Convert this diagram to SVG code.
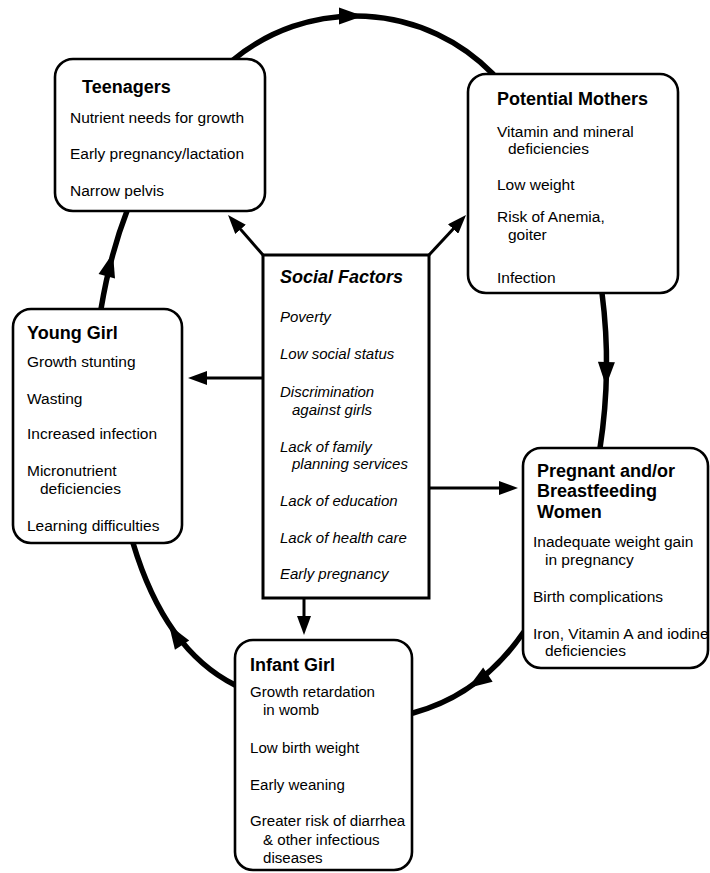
<svg xmlns="http://www.w3.org/2000/svg" width="710" height="873" viewBox="0 0 710 873">
<style>
.box{fill:#fff;stroke:#000;stroke-width:2.6}
.sq{fill:#fff;stroke:#000;stroke-width:3}
.t{font-family:"Liberation Sans",Arial,sans-serif;font-size:15.5px;fill:#000}
.ti{font-size:15.1px}
.h{font-family:"Liberation Sans",Arial,sans-serif;font-size:18px;font-weight:bold;fill:#000}
.si{font-family:"Liberation Sans",Arial,sans-serif;font-size:15px;font-style:italic;fill:#000}
.sh{font-family:"Liberation Sans",Arial,sans-serif;font-size:18px;font-style:italic;font-weight:bold;fill:#000}
.cyc{fill:none;stroke:#000;stroke-width:5.5;stroke-linecap:round}
.str{fill:none;stroke:#000;stroke-width:3;marker-end:url(#arr)}
</style>
<defs>
<marker id="arr" markerUnits="userSpaceOnUse" markerWidth="20" markerHeight="14" refX="11" refY="7" orient="auto">
<path d="M0,0 L19,7 L0,14 Z" fill="#000"/>
</marker>
<path id="ch" d="M0,0 L-24,-8.5 L-24,8.5 Z" fill="#000"/>
</defs>
<rect width="710" height="873" fill="#fff"/>
<g id="connectors">
<path class="cyc" d="M233,60 A192,192 0 0 1 493,74"/>
<path class="cyc" d="M602,293 Q612,370 600,448"/>
<path class="cyc" d="M523,633 Q480,695 413,713"/>
<path class="cyc" d="M235,685 Q165,650 133,543"/>
<path class="cyc" d="M101,309 Q110,255 127,211"/>
<use href="#ch" transform="translate(363,16)"/>
<use href="#ch" transform="translate(606,386) rotate(91)"/>
<use href="#ch" transform="translate(468,688) rotate(146)"/>
<use href="#ch" transform="translate(169,625) rotate(-123)"/>
<use href="#ch" transform="translate(113,253) rotate(-75)"/>
<path class="str" d="M263,255 L233.3,221"/>
<path class="str" d="M429,255 L460.6,220.9"/>
<path class="str" d="M263,378 L196,378"/>
<path class="str" d="M429,488 L510,488"/>
<path class="str" d="M304,598 L304,627"/>
</g>
<g id="teenagers">
<rect class="box" x="55" y="59" width="210" height="152" rx="18"/>
<text class="h" x="82" y="93">Teenagers</text>
<text class="t" x="70" y="123">Nutrient needs for growth</text>
<text class="t" x="70" y="159">Early pregnancy/lactation</text>
<text class="t" x="70" y="196">Narrow pelvis</text>
</g>
<g id="potential-mothers">
<rect class="box" x="468" y="74" width="210" height="219" rx="18"/>
<text class="h" x="497" y="105">Potential Mothers</text>
<text class="t" x="497" y="137">Vitamin and mineral</text>
<text class="t" x="508" y="154">deficiencies</text>
<text class="t" x="497" y="190">Low weight</text>
<text class="t" x="497" y="222">Risk of Anemia,</text>
<text class="t" x="508" y="240">goiter</text>
<text class="t" x="497" y="283">Infection</text>
</g>
<g id="young-girl">
<rect class="box" x="13" y="309" width="169" height="234" rx="18"/>
<text class="h" x="27" y="339">Young Girl</text>
<text class="t" x="27" y="367">Growth stunting</text>
<text class="t" x="27" y="404">Wasting</text>
<text class="t" x="27" y="439">Increased infection</text>
<text class="t" x="27" y="476">Micronutrient</text>
<text class="t" x="40" y="494">deficiencies</text>
<text class="t" x="27" y="531">Learning difficulties</text>
</g>
<g id="social-factors">
<rect class="sq" x="263" y="255" width="166" height="343"/>
<text class="sh" x="280" y="283">Social Factors</text>
<text class="si" x="280" y="322">Poverty</text>
<text class="si" x="280" y="359">Low social status</text>
<text class="si" x="280" y="397">Discrimination</text>
<text class="si" x="292" y="415">against girls</text>
<text class="si" x="280" y="452">Lack of family</text>
<text class="si" x="292" y="469">planning services</text>
<text class="si" x="280" y="506">Lack of education</text>
<text class="si" x="280" y="543">Lack of health care</text>
<text class="si" x="280" y="579">Early pregnancy</text>
</g>
<g id="pregnant-breastfeeding">
<rect class="box" x="523" y="448" width="185" height="220" rx="18"/>
<text class="h" x="537" y="477">Pregnant and/or</text>
<text class="h" x="537" y="497">Breastfeeding</text>
<text class="h" x="537" y="518">Women</text>
<text class="t" x="533" y="547">Inadequate weight gain</text>
<text class="t" x="545" y="565">in pregnancy</text>
<text class="t" x="533" y="602">Birth complications</text>
<text class="t" x="533" y="639">Iron, Vitamin A and iodine</text>
<text class="t" x="545" y="656">deficiencies</text>
</g>
<g id="infant-girl">
<rect class="box" x="235" y="640" width="177" height="230" rx="18"/>
<text class="h" x="250" y="671">Infant Girl</text>
<text class="t ti" x="250" y="697">Growth retardation</text>
<text class="t ti" x="263" y="715">in womb</text>
<text class="t ti" x="250" y="753">Low birth weight</text>
<text class="t ti" x="250" y="790">Early weaning</text>
<text class="t ti" x="250" y="826">Greater risk of diarrhea</text>
<text class="t ti" x="263" y="845">&amp; other infectious</text>
<text class="t ti" x="263" y="863">diseases</text>
</g>
</svg>
